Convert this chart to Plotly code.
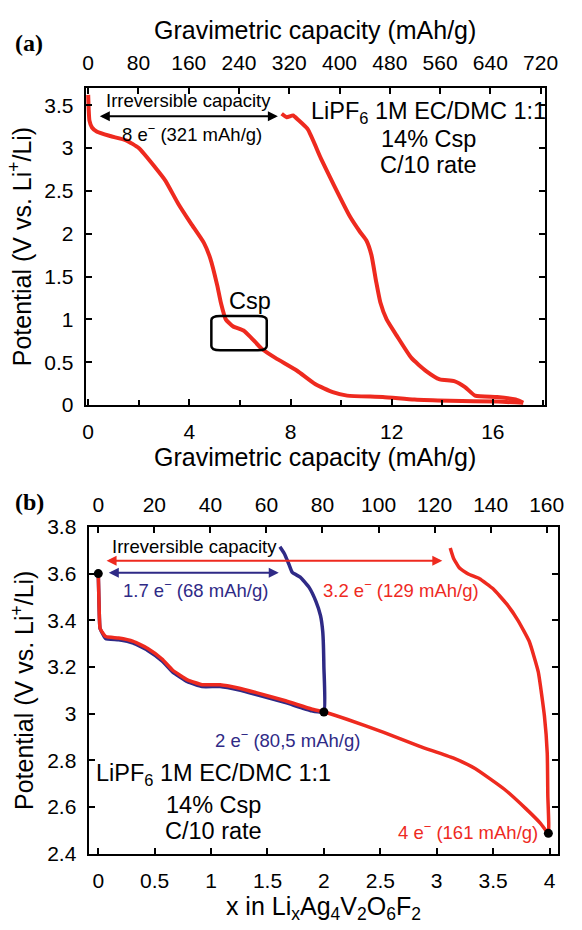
import plotly.graph_objects as go

# ---------------- data: panel (a) ----------------
a_first_x = [0.0, 0.02, 0.05, 0.15, 0.35, 0.87, 1.5, 2.0, 2.66, 3.05, 3.56, 4.06, 4.58, 4.83, 5.1, 5.25,
             5.44, 5.72, 6.14, 6.43, 6.85, 7.4, 8.26, 8.97, 9.67, 10.24, 11.65, 12.9, 14.3, 16.2, 17.2]
a_first_v = [3.62, 3.45, 3.32, 3.24, 3.19, 3.14, 3.09, 3.0, 2.77, 2.62, 2.35, 2.12, 1.89, 1.71, 1.40, 1.19,
             1.0, 0.92, 0.87, 0.79, 0.66, 0.55, 0.40, 0.245, 0.15, 0.11, 0.094, 0.064, 0.05, 0.04, 0.026]
a_second_x = [7.65, 7.85, 8.1, 8.3, 8.68, 9.2, 9.71, 10.35, 10.75, 11.0, 11.2, 11.38, 11.55, 11.8, 12.2,
              12.78, 13.35, 13.9, 14.47, 14.9, 15.3, 16.17, 16.9, 17.2]
a_second_v = [3.40, 3.36, 3.38, 3.33, 3.22, 2.88, 2.57, 2.20, 2.02, 1.92, 1.75, 1.45, 1.2, 1.0, 0.81,
              0.55, 0.40, 0.30, 0.28, 0.21, 0.11, 0.094, 0.064, 0.026]
a_top_ticks = [0, 80, 160, 240, 320, 400, 480, 560, 640, 720]
a_bottom_ticks = [0, 4, 8, 12, 16]
a_y_ticks = [0, 0.5, 1, 1.5, 2, 2.5, 3, 3.5]

# ---------------- data: panel (b) ----------------
b_common_x = [0.0, 0.005, 0.01, 0.016, 0.065, 0.18, 0.31, 0.435, 0.565, 0.66, 0.79, 0.92, 1.08, 1.24,
              1.40, 1.66, 1.89, 2.0]
b_common_v = [3.60, 3.50, 3.41, 3.365, 3.33, 3.324, 3.31, 3.28, 3.234, 3.186, 3.145, 3.124, 3.124, 3.11,
              3.09, 3.055, 3.02, 3.007]
b_blue_back_x = [2.0, 2.0, 1.99, 1.97, 1.93, 1.87, 1.79, 1.72, 1.69, 1.65, 1.61]
b_blue_back_v = [3.007, 3.2, 3.35, 3.42, 3.48, 3.54, 3.585, 3.605, 3.64, 3.685, 3.715]
b_red_tail_x = [2.21, 2.53, 2.85, 3.145, 3.34, 3.6, 3.79, 3.92, 3.99, 3.985, 3.98, 3.955, 3.9, 3.82, 3.72,
                3.62, 3.5, 3.38, 3.28, 3.2, 3.15, 3.12]
b_red_tail_v = [2.975, 2.92, 2.86, 2.81, 2.765, 2.676, 2.593, 2.53, 2.487, 2.65, 2.83, 2.99, 3.18, 3.31,
                3.40, 3.47, 3.535, 3.578, 3.598, 3.625, 3.665, 3.71]
b_dots_x = [0.0, 2.0, 3.99]
b_dots_v = [3.60, 3.007, 2.487]
b_top_ticks = [0, 20, 40, 60, 80, 100, 120, 140, 160]
b_bottom_ticks = [0, 0.5, 1, 1.5, 2, 2.5, 3, 3.5, 4]
b_y_ticks = [2.4, 2.6, 2.8, 3.0, 3.2, 3.4, 3.6, 3.8]
b_y_ticktext = ["2.4", "2.6", "2.8", "3", "3.2", "3.4", "3.6", "3.8"]

MAH_PER_E = 40.25
RED = "#ee2a1f"
BLUE = "#2f2a86"
FONT = "Liberation Sans, Arial, Helvetica, sans-serif"
TICK_SIZE = 21
TITLE_SIZE = 25
BIG = 23.5
SMALL = 18.5

W, H = 582, 930
def dx(p0, p1):
    return [p0 / W, p1 / W]
def dy(p_bottom, p_top):
    return [1 - p_bottom / H, 1 - p_top / H]

a_xr = [-0.1, 18.05]
b_xr = [-0.086, 4.078]

fig = go.Figure()

# Panel (a)
fig.add_trace(go.Scatter(x=a_first_x, y=a_first_v, mode="lines", line=dict(color=RED, width=4, shape="spline", smoothing=0.5),
                         xaxis="x", yaxis="y", showlegend=False))
fig.add_trace(go.Scatter(x=a_second_x, y=a_second_v, mode="lines", line=dict(color=RED, width=4, shape="spline", smoothing=0.5),
                         xaxis="x", yaxis="y", showlegend=False))

# Panel (b)
blue_x = b_common_x + b_blue_back_x[1:]
blue_v = [v - 0.008 if 0.05 < x < 1.9 else v for x, v in zip(b_common_x, b_common_v)] + b_blue_back_v[1:]
fig.add_trace(go.Scatter(x=blue_x, y=blue_v, mode="lines", line=dict(color=BLUE, width=3.5, shape="spline", smoothing=0.4),
                         xaxis="x3", yaxis="y2", showlegend=False))
fig.add_trace(go.Scatter(x=b_common_x + b_red_tail_x, y=b_common_v + b_red_tail_v, mode="lines",
                         line=dict(color=RED, width=3.5, shape="spline", smoothing=0.4),
                         xaxis="x3", yaxis="y2", showlegend=False))
fig.add_trace(go.Scatter(x=b_dots_x, y=b_dots_v, mode="markers", marker=dict(color="black", size=9),
                         xaxis="x3", yaxis="y2", showlegend=False, cliponaxis=False))

axis_common = dict(showline=True, linecolor="black", linewidth=2, ticks="inside", tickcolor="black",
                   tickwidth=2, ticklen=6, showgrid=False, zeroline=False,
                   tickfont=dict(family=FONT, size=TICK_SIZE, color="black"))

fig.update_layout(
    width=W, height=H, margin=dict(l=0, r=0, t=0, b=0),
    paper_bgcolor="white", plot_bgcolor="white",
    font=dict(family=FONT, color="black"),
    xaxis=dict(**axis_common, domain=dx(85, 557), range=a_xr, anchor="y", tickvals=a_bottom_ticks,
               ticklabelstandoff=7,
               minor=dict(dtick=2, ticks="inside", ticklen=5, tickcolor="black", tickwidth=2),
               title=dict(text="Gravimetric capacity (mAh/g)", font=dict(size=TITLE_SIZE), standoff=2)),
    xaxis2=dict(**axis_common, domain=dx(85, 557), range=[r * MAH_PER_E for r in a_xr], anchor="y",
                overlaying="x", side="top", tickvals=a_top_ticks, ticklabelstandoff=8,
                title=dict(text="Gravimetric capacity (mAh/g)", font=dict(size=TITLE_SIZE), standoff=4)),
    yaxis=dict(**axis_common, domain=dy(403, 78), range=[0, 3.7], anchor="x", tickvals=a_y_ticks,
               mirror="ticks", ticklabelstandoff=6,
               title=dict(text="Potential (V vs. Li<sup>+</sup>/Li)", font=dict(size=TITLE_SIZE), standoff=6)),
    xaxis3=dict(**axis_common, domain=dx(88, 571), range=b_xr, anchor="y2", tickvals=b_bottom_ticks,
                ticklabelstandoff=7,
                title=dict(text="x in Li<sub>x</sub>Ag<sub>4</sub>V<sub>2</sub>O<sub>6</sub>F<sub>2</sub>",
                           font=dict(size=TITLE_SIZE), standoff=6)),
    xaxis4=dict(**axis_common, domain=dx(88, 571), range=[r * MAH_PER_E for r in b_xr], anchor="y2",
                overlaying="x3", side="top", tickvals=b_top_ticks, ticklabelstandoff=5),
    yaxis2=dict(**axis_common, domain=dy(863, 528), range=[2.4, 3.8], anchor="x3", tickvals=b_y_ticks,
                ticktext=b_y_ticktext, mirror="ticks", ticklabelstandoff=6,
                title=dict(text="Potential (V vs. Li<sup>+</sup>/Li)", font=dict(size=TITLE_SIZE), standoff=6)),
)
# invisible anchors so the top axes render
fig.add_trace(go.Scatter(x=[0], y=[0], xaxis="x2", yaxis="y", mode="markers", marker=dict(opacity=0), showlegend=False, hoverinfo="skip"))
fig.add_trace(go.Scatter(x=[0], y=[3], xaxis="x4", yaxis="y2", mode="markers", marker=dict(opacity=0), showlegend=False, hoverinfo="skip"))

ann = []
# panel labels
ann.append(dict(text="<b>(a)</b>", x=10 / W, y=1 - 32 / H, xref="paper", yref="paper", showarrow=False,
                xanchor="left", yanchor="middle", font=dict(family="Liberation Serif, Times New Roman, serif", size=24)))
ann.append(dict(text="<b>(b)</b>", x=10 / W, y=1 - 502 / H, xref="paper", yref="paper", showarrow=False,
                xanchor="left", yanchor="middle", font=dict(family="Liberation Serif, Times New Roman, serif", size=24)))

# panel (a) annotations
a_arrow = dict(x0=0.4, x1=7.5, v=3.37)
ann.append(dict(x=a_arrow["x1"], y=a_arrow["v"], ax=a_arrow["x0"], ay=a_arrow["v"], xref="x", yref="y",
                axref="x", ayref="y", showarrow=True, arrowhead=2, startarrowhead=2, arrowside="end+start",
                arrowwidth=2, arrowcolor="black", text=""))
ann.append(dict(x=3.95, y=3.56, xref="x", yref="y", text="Irreversible capacity", showarrow=False,
                font=dict(size=SMALL)))
ann.append(dict(x=4.1, y=3.17, xref="x", yref="y", text="8 e<sup>−</sup> (321 mAh/g)", showarrow=False,
                font=dict(size=SMALL)))
ann.append(dict(x=13.45, y=3.42, xref="x", yref="y", text="LiPF<sub>6</sub> 1M EC/DMC 1:1", showarrow=False,
                font=dict(size=BIG)))
ann.append(dict(x=13.45, y=3.11, xref="x", yref="y", text="14% Csp", showarrow=False, font=dict(size=BIG)))
ann.append(dict(x=13.45, y=2.80, xref="x", yref="y", text="C/10 rate", showarrow=False, font=dict(size=BIG)))
ann.append(dict(x=6.4, y=1.22, xref="x", yref="y", text="Csp", showarrow=False, font=dict(size=BIG)))

# panel (b) annotations
ann.append(dict(x=0.85, y=3.715, xref="x3", yref="y2", text="Irreversible capacity", showarrow=False,
                font=dict(size=SMALL)))
b_red_arrow = dict(x0=0.06, x1=3.05, v=3.655)
b_blue_arrow = dict(x0=0.08, x1=1.6, v=3.604)
ann.append(dict(x=b_red_arrow["x1"], y=b_red_arrow["v"], ax=b_red_arrow["x0"], ay=b_red_arrow["v"],
                xref="x3", yref="y2", axref="x3", ayref="y2", showarrow=True, arrowhead=2, startarrowhead=2,
                arrowside="end+start", arrowwidth=2, arrowcolor=RED, text=""))
ann.append(dict(x=b_blue_arrow["x1"], y=b_blue_arrow["v"], ax=b_blue_arrow["x0"], ay=b_blue_arrow["v"],
                xref="x3", yref="y2", axref="x3", ayref="y2", showarrow=True, arrowhead=2, startarrowhead=2,
                arrowside="end+start", arrowwidth=2, arrowcolor=BLUE, text=""))
ann.append(dict(x=0.86, y=3.535, xref="x3", yref="y2", text="1.7 e<sup>−</sup> (68 mAh/g)", showarrow=False,
                font=dict(size=SMALL, color=BLUE)))
ann.append(dict(x=2.68, y=3.535, xref="x3", yref="y2", text="3.2 e<sup>−</sup> (129 mAh/g)", showarrow=False,
                font=dict(size=SMALL, color=RED)))
ann.append(dict(x=1.68, y=2.89, xref="x3", yref="y2", text="2 e<sup>−</sup> (80,5 mAh/g)", showarrow=False,
                font=dict(size=SMALL, color=BLUE)))
ann.append(dict(x=3.92, y=2.497, xref="x3", yref="y2", text="4 e<sup>−</sup> (161 mAh/g)", showarrow=False,
                xanchor="right", font=dict(size=SMALL, color=RED)))
ann.append(dict(x=1.02, y=2.74, xref="x3", yref="y2", text="LiPF<sub>6</sub> 1M EC/DMC 1:1", showarrow=False,
                font=dict(size=BIG)))
ann.append(dict(x=1.02, y=2.607, xref="x3", yref="y2", text="14% Csp", showarrow=False, font=dict(size=BIG)))
ann.append(dict(x=1.02, y=2.497, xref="x3", yref="y2", text="C/10 rate", showarrow=False, font=dict(size=BIG)))
fig.update_layout(annotations=ann)

# Csp rounded box in panel (a)
bx0, bx1, bv0, bv1 = 4.87, 7.06, 0.64, 1.04
rx, rv = 0.35, 0.05
path = (f"M {bx0+rx},{bv0} L {bx1-rx},{bv0} Q {bx1},{bv0} {bx1},{bv0+rv} L {bx1},{bv1-rv} "
        f"Q {bx1},{bv1} {bx1-rx},{bv1} L {bx0+rx},{bv1} Q {bx0},{bv1} {bx0},{bv1-rv} "
        f"L {bx0},{bv0+rv} Q {bx0},{bv0} {bx0+rx},{bv0} Z")
fig.add_shape(type="path", path=path, xref="x", yref="y", line=dict(color="black", width=2.5))

fig.write_html("out.html")
